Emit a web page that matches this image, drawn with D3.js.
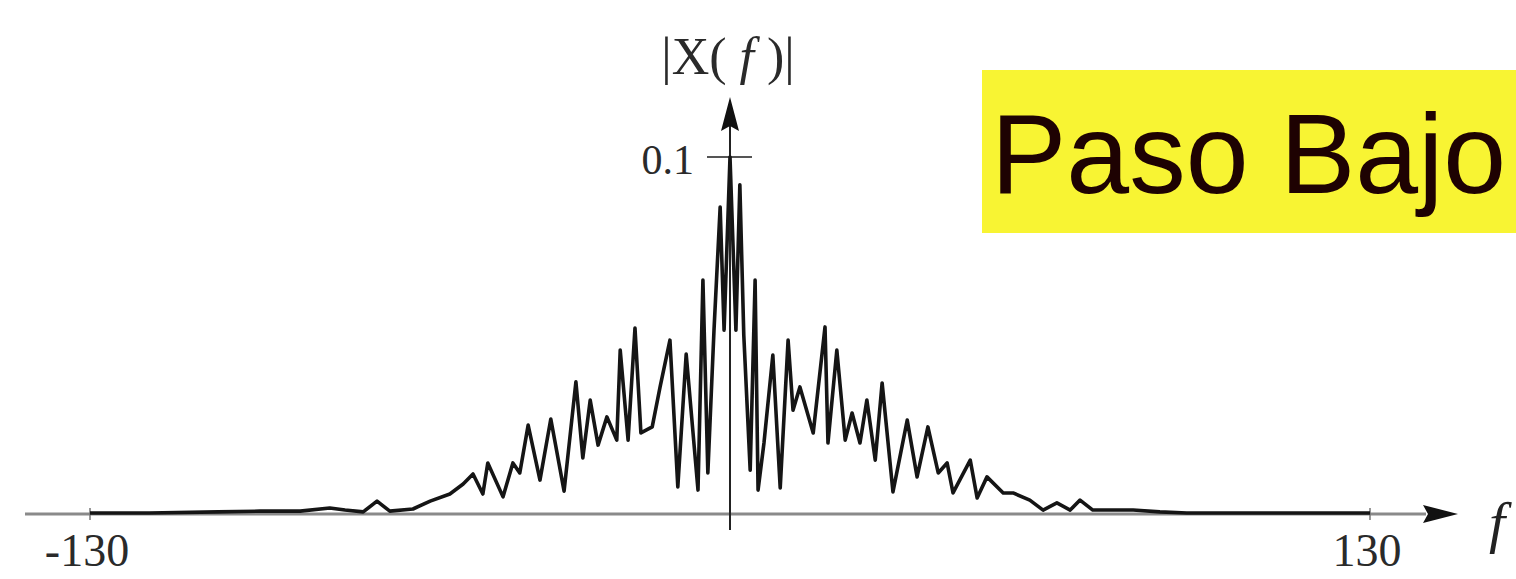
<!DOCTYPE html>
<html lang="en">
<head>
  <meta charset="utf-8">
  <title>Paso Bajo</title>
  <script src="https://cdn.jsdelivr.net/npm/d3@7"></script>
  <style>
  body{ margin:0; background:#fff; }
  .tick-label{ font-family:"Liberation Serif","DejaVu Serif",serif; fill:#2a2a2a; }
  </style>
</head>
<body>
  <script>
  // spectrum: frequency, magnitude
  var freqs = [-130,-118,-104,-95.5,-87.3,-81.3,-78.2,-74.5,-71.7,-69.1,-64.4,-60.9,-56.9,-54.2,-52.2,-50.2,-49.2,-46.1,-44.1,-42.7,-41.0,-38.6,-36.4,-33.7,-31.3,-29.9,-28.4,-26.8,-25.0,-23.0,-22.3,-20.7,-19.3,-18.1,-15.8,-14.2,-12.2,-10.6,-8.9,-6.5,-5.5,-4.5,-3.25,-2.0,-1.2,0,1.2,2.0,2.8,4.1,5.1,5.7,6.9,8.7,10.2,11.8,12.8,14.2,16.9,19.3,19.9,21.7,23.4,24.8,26.4,27.8,29.5,30.9,33.1,36.0,38.0,40.2,42.3,44.1,45.3,48.8,50.2,52.2,55.5,57.5,60.9,63.6,66.4,69.1,71.1,73.7,77.8,81.9,87.3,92.8,103.6,115.8,130];
  var mags = [0.0003,0.0003,0.0006,0.0008,0.0008,0.0017,0.0011,0.0006,0.0036,0.0008,0.0014,0.0036,0.0056,0.0084,0.0112,0.0056,0.0143,0.0048,0.0143,0.0115,0.0249,0.0095,0.0266,0.0064,0.0370,0.0157,0.0319,0.0193,0.0272,0.0207,0.0459,0.0207,0.0521,0.0227,0.0244,0.0356,0.0487,0.0076,0.0448,0.0067,0.0655,0.0115,0.0515,0.0860,0.0515,0.1000,0.0515,0.0922,0.0501,0.0123,0.0655,0.0067,0.0199,0.0445,0.0073,0.0487,0.0291,0.0356,0.0227,0.0524,0.0199,0.0459,0.0207,0.0283,0.0199,0.0319,0.0151,0.0367,0.0062,0.0263,0.0104,0.0244,0.0115,0.0143,0.0059,0.0151,0.0045,0.0104,0.0059,0.0059,0.0039,0.0011,0.0031,0.0011,0.0039,0.0011,0.0011,0.0011,0.0006,0.0003,0.0003,0.0003,0.0003];
  var xTicks = [-130, 130];
  var yTicks = [0.1];

  var width = 1516;
  var height = 579;
  var svg = d3.select("body")
  .append("svg")
  .attr("width",width)
  .attr("height",height);

  var x = d3.scaleLinear().domain([-130,130]).range([90,1370]);
  var y = d3.scaleLinear().domain([0,0.1]).range([514,157]);

  var axes = svg.append("g");
  var curve = svg.append("g");

  // x axis with arrow
  axes.append("line")
    .attr("x1",25).attr("x2",1426)
    .attr("y1",y(0)).attr("y2",y(0))
    .attr("stroke","#8a8a8a").attr("stroke-width",3);
  axes.append("path")
    .attr("d","M1458,"+y(0)+" L1423,"+(y(0)-9)+" L1428,"+y(0)+" L1423,"+(y(0)+9)+"Z")
    .attr("fill","#111");
  axes.selectAll(".xt")
    .data(xTicks)
    .enter()
    .append("line")
    .attr("x1",d=>x(d)).attr("x2",d=>x(d))
    .attr("y1",y(0)-6).attr("y2",y(0)+6)
    .attr("stroke","#777").attr("stroke-width",1.5);
  axes.selectAll(".xl")
    .data(xTicks)
    .enter()
    .append("text")
    .attr("class","tick-label")
    .attr("x",d=>x(d)-3).attr("y",566)
    .attr("text-anchor","middle")
    .style("font-size","46px")
    .text(d=>d);
  axes.append("text")
    .attr("x",1489).attr("y",542)
    .style("font-family","Liberation Serif, serif")
    .style("font-style","italic")
    .style("font-size","58px")
    .attr("fill","#222")
    .text("f");

  // y axis with arrow
  axes.append("line")
    .attr("x1",x(0)).attr("x2",x(0))
    .attr("y1",530).attr("y2",125)
    .attr("stroke","#222").attr("stroke-width",2);
  axes.append("path")
    .attr("d","M"+x(0)+",97 L"+(x(0)-9)+",131 L"+x(0)+",126 L"+(x(0)+9)+",131Z")
    .attr("fill","#111");
  axes.selectAll(".yt")
    .data(yTicks)
    .enter()
    .append("line")
    .attr("x1",x(0)-23).attr("x2",x(0)+22)
    .attr("y1",d=>y(d)).attr("y2",d=>y(d))
    .attr("stroke","#555").attr("stroke-width",2);
  axes.selectAll(".yl")
    .data(yTicks)
    .enter()
    .append("text")
    .attr("class","tick-label")
    .attr("x",694).attr("y",d=>y(d)+17)
    .attr("text-anchor","end")
    .style("font-size","42px")
    .text(d=>d);

  var ylab = axes.append("text")
    .attr("x",728).attr("y",74)
    .attr("text-anchor","middle")
    .style("font-family","Liberation Serif, serif")
    .style("font-size","52px")
    .attr("fill","#2a2a2a");
  ylab.append("tspan").text("|X( ");
  ylab.append("tspan").style("font-style","italic").text("f");
  ylab.append("tspan").text(" )|");

  // spectrum
  var line = d3.line()
    .x((d,i)=>x(freqs[i]))
    .y((d,i)=>y(mags[i]));

  curve.append("path")
    .datum(mags)
    .attr("fill","none")
    .attr("stroke","#151515")
    .attr("stroke-width",3.6)
    .attr("stroke-linejoin","round")
    .attr("d",line);

  // label box
  var box = svg.append("g");
  box.append("rect")
    .attr("x",982).attr("y",70)
    .attr("width",540).attr("height",163)
    .attr("fill","#f8f433");
  box.append("text")
    .attr("x",991).attr("y",193)
    .style("font-family","Liberation Sans, Arial, sans-serif")
    .style("font-size","113px")
    .attr("fill","#1e0202")
    .text("Paso Bajo");
  </script>
</body>
</html>
